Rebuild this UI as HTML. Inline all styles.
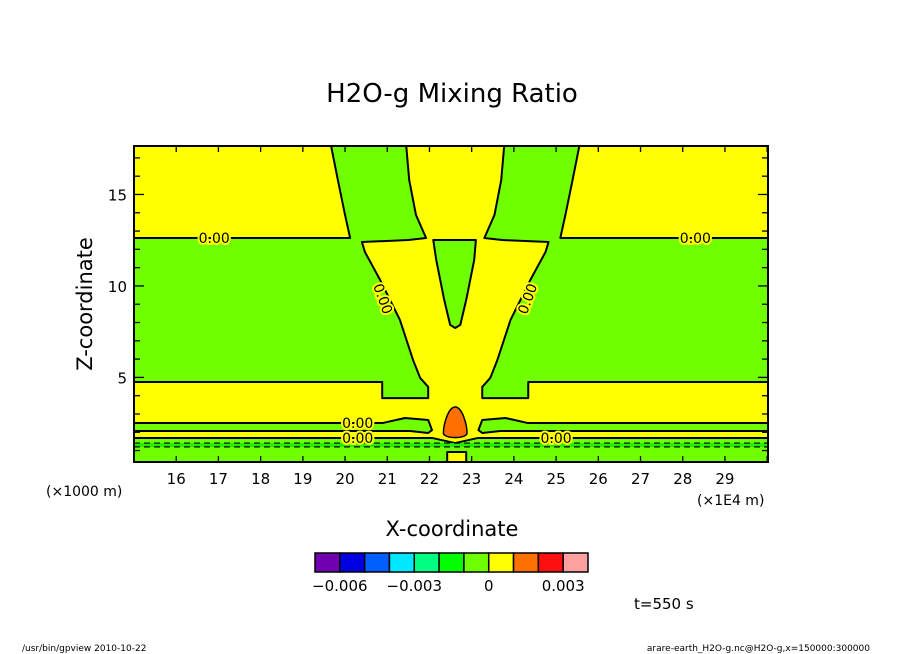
<!DOCTYPE html>
<html><head><meta charset="utf-8">
<style>
body{margin:0;background:#fff;}
svg{display:block;font-family:"DejaVu Sans","Liberation Sans",sans-serif;}
</style></head>
<body>
<svg id="chart" width="904" height="654" viewBox="0 0 904 654">
<rect width="904" height="654" fill="#fff"/>
<text x="452" y="102" text-anchor="middle" font-size="26">H2O-g Mixing Ratio</text>
<defs><clipPath id="pc"><rect x="134" y="146" width="634" height="316"/></clipPath></defs>
<g id="plot" clip-path="url(#pc)"></g>
<g id="axes"></g>
<text x="452" y="536" text-anchor="middle" font-size="21">X-coordinate</text>
<text transform="translate(92,304) rotate(-90)" text-anchor="middle" font-size="21">Z-coordinate</text>
<text x="46" y="496" font-size="14">(×1000 m)</text>
<text x="697" y="505" font-size="14">(×1E4 m)</text>
<g id="cbar"></g>
<text x="634" y="609" font-size="15">t=550 s</text>
<text x="22" y="651" font-size="9">/usr/bin/gpview  2010-10-22</text>
<text x="870" y="651" text-anchor="end" font-size="9">arare-earth_H2O-g.nc@H2O-g,x=150000:300000</text>
</svg>
<script>
const xTicks=[16,17,18,19,20,21,22,23,24,25,26,27,28,29];
const zTicks=[5,10,15];
const cbColors=["#7000b0","#0000e0","#0060ff","#00e8ff","#00ff80","#00ff00","#70ff00","#ffff00","#ff7000","#ff1010","#ffa0a0"];
const cbLabels=["-0.006","-0.003","0","0.003"];
const cbLabelIdx=[1,4,7,10];
// contour regions in data units [x (×1E4 m), z (×1000 m)]
const greenLeft=[[15,12.62],[20.12,12.62],[20.0,13.88],[19.83,15.79],[19.67,17.65],[21.45,17.65],[21.52,15.79],[21.68,13.88],[21.92,12.62],[21.5,12.51],[20.40,12.40],[20.47,11.86],[20.83,10.33],[21.30,8.14],[21.61,5.96],[21.78,4.97],[21.97,4.48],[21.97,3.87],[20.88,3.87],[20.88,4.75],[15,4.75]];
const greenTri=[[22.09,12.51],[23.10,12.51],[23.06,11.42],[22.87,9.23],[22.73,7.87],[22.61,7.70],[22.49,7.87],[22.35,9.23],[22.16,11.42]];
const greenStripe=[[15,2.51],[20.90,2.51],[21.42,2.78],[21.97,2.67],[22.06,2.12],[21.97,1.96],[21.54,2.07],[20.90,2.07],[15,2.07]];
const greenBottom=[[15,1.69],[22.06,1.69],[22.61,1.41],[23.15,1.69],[30.1,1.69],[30.1,0.3],[15,0.3]];
const yellowBox=[[22.42,0.92],[22.87,0.92],[22.87,0.3],[22.42,0.3]];
const egg={cx:22.61,zTop:3.38,zBot:1.63,hw:0.28};
const labels=[[16.9,12.62,0],[28.3,12.62,0],[20.9,9.3,70],[24.32,9.3,-70],[20.3,2.51,0],[20.3,1.69,0],[25.0,1.69,0]];
const XMIN=15,XMAX=30.02,ZMIN=0.375,ZMAX=17.65;
const X=x=>134+(x-XMIN)*(634/(XMAX-XMIN));
const Z=z=>462-(z-ZMIN)*(316/(ZMAX-ZMIN));
const NS="http://www.w3.org/2000/svg";
const plot=document.getElementById('plot'),axes=document.getElementById('axes'),cbar=document.getElementById('cbar');
function mk(t,a,p){const e=document.createElementNS(NS,t);for(const k in a)e.setAttribute(k,a[k]);p.appendChild(e);return e;}
function pts(arr,mirror){return arr.map(([x,z])=>X(mirror?2*egg.cx-x:x)+','+Z(z)).join(' ');}
let r=mk('rect',{x:134,y:146,width:634,height:316,fill:'#ffff00'},plot);


function poly(arr,fill,name,mirror){const p=mk('polygon',{points:pts(arr,mirror),fill:fill,stroke:'#000','stroke-width':2,'stroke-linejoin':'round'},plot);

}
poly(greenLeft,'#70ff00','green-region-left',false);
poly(greenLeft,'#70ff00','green-region-right',true);
poly(greenTri,'#70ff00','green-region-center',false);
poly(greenStripe,'#70ff00','green-stripe-left',false);
poly(greenStripe,'#70ff00','green-stripe-right',true);
poly(greenBottom,'#70ff00','green-region-bottom',false);
// bright strip with dashed lines
let bs=mk('rect',{x:134,y:Z(1.41),width:634,height:Z(1.20)-Z(1.41),fill:'#20f000'},plot);


[1.41,1.20].forEach(z=>{const l=mk('line',{x1:134,x2:768,y1:Z(z),y2:Z(z),stroke:'#000','stroke-width':1.2,'stroke-dasharray':'6,4'},plot);

});
poly(yellowBox,'#ffff00','yellow-bottom-box',false);
const ey1=Z(egg.zTop),ey2=Z(egg.zBot),ecx=X(egg.cx),ehw=egg.hw*42.2;
let eg=mk('path',{d:`M${ecx},${ey1} C${ecx+ehw*0.6},${ey1} ${ecx+ehw},${ey2-14} ${ecx+ehw},${ey2-6} C${ecx+ehw},${ey2} ${ecx-ehw},${ey2} ${ecx-ehw},${ey2-6} C${ecx-ehw},${ey2-14} ${ecx-ehw*0.6},${ey1} ${ecx},${ey1}Z`,fill:'#ff7000',stroke:'#000','stroke-width':1.5},plot);


labels.forEach(([x,z,a])=>{const t=mk('text',{x:X(x),y:Z(z)+5,'text-anchor':'middle','font-size':14,transform:`rotate(${a} ${X(x)} ${Z(z)})`,stroke:'#ffff00','stroke-width':4,'paint-order':'stroke'},plot);t.textContent='0.00';

});
// frame
let fr=mk('rect',{x:134,y:146,width:634,height:316,fill:'none',stroke:'#000','stroke-width':2},axes);


for(let x=15;x<=30;x++){[[462,456],[146,152]].forEach(([a,b])=>mk('line',{x1:X(x),x2:X(x),y1:a,y2:b,stroke:'#000','stroke-width':1.3},axes));}
for(let z=1;z<=17;z++){const len=z%5===0?10:6;[[134,134+len],[768,768-len]].forEach(([a,b])=>mk('line',{x1:a,x2:b,y1:Z(z),y2:Z(z),stroke:'#000','stroke-width':1.3},axes));}
xTicks.forEach(v=>{const t=mk('text',{x:X(v),y:484,'text-anchor':'middle','font-size':15},axes);t.textContent=v;

});
zTicks.forEach(v=>{const t=mk('text',{x:127,y:Z(v)+6,'text-anchor':'end','font-size':15},axes);t.textContent=v;

});
// colorbar
const cbX=315,cbW=273,cbY=553,cbH=19,bw=cbW/cbColors.length;
cbColors.forEach((c,i)=>{const b=mk('rect',{x:cbX+i*bw,y:cbY,width:bw,height:cbH,fill:c,stroke:'#000','stroke-width':1.5},cbar);

});
cbLabels.forEach((l,i)=>{const t=mk('text',{x:cbX+cbLabelIdx[i]*bw,y:591,'text-anchor':'middle','font-size':15},cbar);t.textContent=l.replace('-','\u2212');

});
</script>
</body></html>
